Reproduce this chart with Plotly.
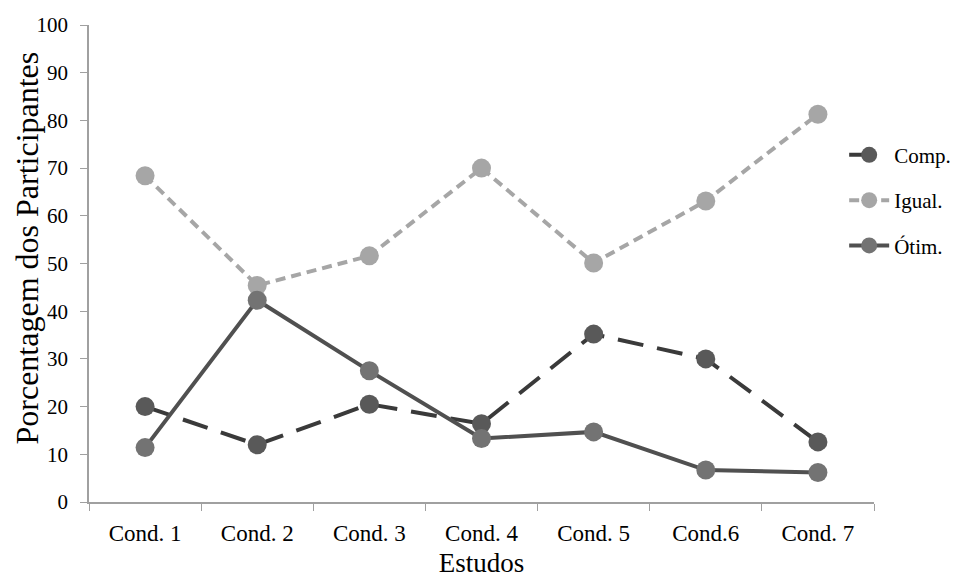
import plotly.graph_objects as go

categories = ["Cond. 1", "Cond. 2", "Cond. 3", "Cond. 4", "Cond. 5", "Cond.6", "Cond. 7"]
comp = [20.0, 12.0, 20.5, 16.4, 35.2, 30.0, 12.6]
igual = [68.4, 45.4, 51.6, 70.0, 50.1, 63.1, 81.3]
otim = [11.4, 42.3, 27.5, 13.3, 14.7, 6.7, 6.2]
yticks = [0, 10, 20, 30, 40, 50, 60, 70, 80, 90, 100]

FONT = "Liberation Serif"

fig = go.Figure()
fig.add_trace(go.Scatter(
    x=categories, y=comp, name="Comp.", mode="lines+markers", legendgroup="a",
    line=dict(color="#3a3a3a", width=4, dash="26px,14px"),
    marker=dict(color="#595959", size=19),
))
fig.add_trace(go.Scatter(
    x=categories, y=igual, name="Igual.", mode="lines+markers", legendgroup="b",
    line=dict(color="#a6a6a6", width=4, dash="10px,6px"),
    marker=dict(color="#a6a6a6", size=19),
))
fig.add_trace(go.Scatter(
    x=categories, y=otim, name="Ótim.", mode="lines+markers", legendgroup="c",
    line=dict(color="#505050", width=4),
    marker=dict(color="#737373", size=19),
))

fig.update_layout(
    width=963, height=578,
    margin=dict(l=81, r=97, t=17, b=84),
    paper_bgcolor="white", plot_bgcolor="white",
    font=dict(family=FONT, color="black"),
    showlegend=True,
    legend=dict(
        x=0.962, y=0.77, xanchor="left", yanchor="top",
        font=dict(family=FONT, size=21, color="black"),
        tracegroupgap=15, bgcolor="rgba(0,0,0,0)",
        itemwidth=40,
    ),
    xaxis=dict(
        type="category", categoryorder="array", categoryarray=categories,
        automargin=False,
        showline=True, linecolor="#a0a0a0", linewidth=1.5,
        ticks="outside", tickson="boundaries", ticklen=7, tickcolor="#a0a0a0",
        tickfont=dict(family=FONT, size=23, color="black"),
        ticklabelstandoff=10,
        showgrid=False, zeroline=False,
        title=dict(text="Estudos", font=dict(family=FONT, size=27, color="black"), standoff=8),
        range=[-0.5, 6.5],
    ),
    yaxis=dict(
        range=[0, 100], tickvals=yticks,
        automargin=False,
        showline=True, linecolor="#a0a0a0", linewidth=1.5,
        ticks="outside", ticklen=7, tickcolor="#a0a0a0",
        tickfont=dict(family=FONT, size=21, color="black"),
        ticklabelstandoff=8,
        showgrid=False, zeroline=False,
    ),
    annotations=[dict(
        text="Porcentagem dos Participantes", textangle=-90,
        xref="paper", yref="paper", x=0, y=0.5, xanchor="center", yanchor="middle",
        xshift=-63, yshift=15, showarrow=False,
        font=dict(family=FONT, size=32, color="black"),
    )],
)

fig.write_html("out.html")
